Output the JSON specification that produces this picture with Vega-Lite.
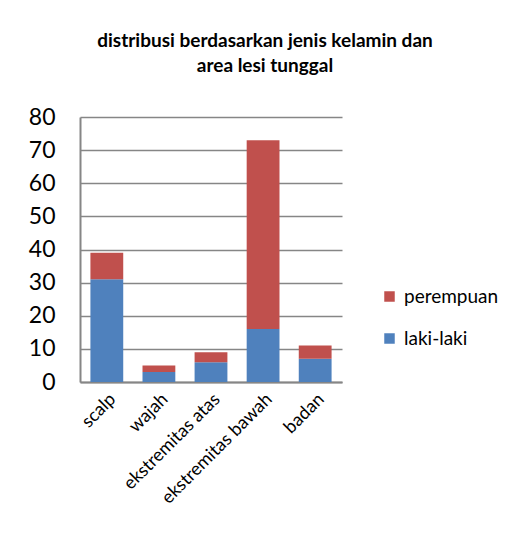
{
  "$schema": "https://vega.github.io/schema/vega-lite/v6.json",
  "autosize": "none",
  "width": 262,
  "height": 265,
  "padding": {"left": 80, "top": 117, "right": 174, "bottom": 161},
  "background": "white",
  "title": {
    "text": ["distribusi berdasarkan jenis kelamin dan", "area lesi tunggal"],
    "font": "Lato",
    "fontSize": 19,
    "fontWeight": "bold",
    "color": "#000000",
    "anchor": "middle",
    "dx": 54,
    "offset": 30,
    "lineHeight": 25
  },
  "data": {
    "values": [
      {"area": "scalp", "jenis": "laki-laki", "jumlah": 31},
      {"area": "scalp", "jenis": "perempuan", "jumlah": 8},
      {"area": "wajah", "jenis": "laki-laki", "jumlah": 3},
      {"area": "wajah", "jenis": "perempuan", "jumlah": 2},
      {"area": "ekstremitas atas", "jenis": "laki-laki", "jumlah": 6},
      {"area": "ekstremitas atas", "jenis": "perempuan", "jumlah": 3},
      {"area": "ekstremitas bawah", "jenis": "laki-laki", "jumlah": 16},
      {"area": "ekstremitas bawah", "jenis": "perempuan", "jumlah": 57},
      {"area": "badan", "jenis": "laki-laki", "jumlah": 7},
      {"area": "badan", "jenis": "perempuan", "jumlah": 4}
    ]
  },
  "mark": {"type": "bar"},
  "encoding": {
    "x": {
      "field": "area",
      "type": "nominal",
      "sort": null,
      "scale": {"paddingInner": 0.37, "paddingOuter": 0.2},
      "axis": {
        "title": null,
        "labelAngle": -45,
        "labelFont": "Lato",
        "labelFontSize": 18,
        "labelColor": "#000000",
        "labelPadding": 8,
        "ticks": false,
        "domainColor": "#868686",
        "domainWidth": 2
      }
    },
    "y": {
      "field": "jumlah",
      "type": "quantitative",
      "aggregate": "sum",
      "stack": "zero",
      "scale": {"domain": [0, 80]},
      "axis": {
        "title": null,
        "values": [0, 10, 20, 30, 40, 50, 60, 70, 80],
        "labelFont": "Lato",
        "labelFontSize": 23,
        "labelColor": "#000000",
        "labelPadding": 25,
        "ticks": false,
        "domainColor": "#868686",
        "domainWidth": 2,
        "gridColor": "#868686",
        "gridWidth": 1.5
      }
    },
    "color": {
      "field": "jenis",
      "type": "nominal",
      "scale": {"domain": ["perempuan", "laki-laki"], "range": ["#C0504D", "#4F81BD"]},
      "legend": {
        "title": null,
        "orient": "none",
        "legendX": 300,
        "legendY": 170,
        "symbolType": "square",
        "symbolSize": 110,
        "symbolStrokeWidth": 0,
        "labelFont": "Lato",
        "labelFontSize": 19,
        "labelColor": "#000000",
        "rowPadding": 22,
        "labelOffset": 5
      }
    },
    "order": {"field": "jenis", "sort": "ascending"}
  },
  "config": {"view": {"stroke": null}}
}
